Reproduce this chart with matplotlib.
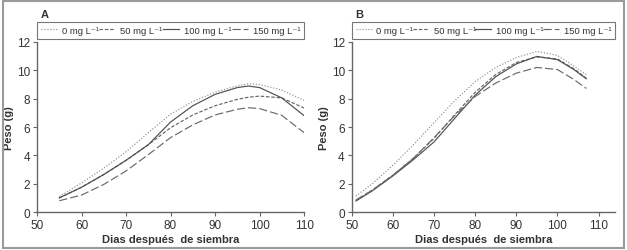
import numpy as np
import matplotlib
matplotlib.use("Agg")
import matplotlib.pyplot as plt
from matplotlib.patches import Rectangle

plt.rcParams['font.family'] = ['Liberation Sans', 'DejaVu Sans']

# panel A
days_a = [55, 60, 65, 70, 75, 80, 85, 90, 95, 97.5, 100, 105, 110]
a_0 = [1.1, 2.05, 3.1, 4.25, 5.6, 6.9, 7.8, 8.45, 8.9, 9.05, 9.0, 8.6, 7.88]
a_50 = [1.0, 1.75, 2.65, 3.65, 4.75, 5.95, 6.85, 7.5, 7.95, 8.1, 8.18, 8.05, 7.34]
a_100 = [1.0, 1.75, 2.65, 3.65, 4.75, 6.35, 7.5, 8.3, 8.78, 8.89, 8.78, 8.05, 6.8]
a_150 = [0.8, 1.2, 1.95, 2.9, 4.05, 5.25, 6.15, 6.85, 7.25, 7.36, 7.3, 6.82, 5.6]

# panel B
days_b = [51, 55, 60, 65, 70, 75, 80, 85, 90, 95, 100, 104, 107]
b_0 = [1.13, 2.0, 3.3, 4.75, 6.3, 7.85, 9.2, 10.2, 10.9, 11.33, 11.05, 10.3, 9.7]
b_50 = [0.82, 1.55, 2.6, 3.8, 5.2, 6.85, 8.45, 9.7, 10.55, 10.94, 10.8, 10.1, 9.45]
b_100 = [0.78, 1.5, 2.55, 3.7, 4.95, 6.6, 8.25, 9.55, 10.45, 10.98, 10.75, 10.05, 9.4]
b_150 = [0.85, 1.55, 2.6, 3.8, 5.25, 6.8, 8.15, 9.1, 9.8, 10.2, 10.05, 9.35, 8.72]

labels = ['0 mg L⁻¹', '50 mg L⁻¹', '100 mg L⁻¹', '150 mg L⁻¹']
styles = [(0, (1, 1.5)), (0, (3, 1.5)), '-', (0, (7, 2.5))]
colors = ['#909090', '#666666', '#505050', '#6a6a6a']

fig = plt.figure(figsize=(6.27, 2.51), dpi=100)
fig.patches.append(Rectangle((0.004, 0.008), 0.992, 0.984, transform=fig.transFigure,
                             fill=False, edgecolor='#9a9a9a', linewidth=1.5))

ax_a = fig.add_axes([0.059, 0.151, 0.426, 0.678])
ax_b = fig.add_axes([0.561, 0.151, 0.42, 0.678])

panels = [(ax_a, days_a, [a_0, a_50, a_100, a_150], 'A', 110),
          (ax_b, days_b, [b_0, b_50, b_100, b_150], 'B', 114)]

for ax, days, series, tag, xmax in panels:
    for ys, lab, ls, c in zip(series, labels, styles, colors):
        ax.plot(days, ys, linestyle=ls, color=c, linewidth=0.85, label=lab)
    ax.set_xlim(50, xmax)
    ax.set_ylim(0, 12)
    ax.set_xticks(range(50, 111, 10))
    ax.set_yticks(range(0, 13, 2))
    for s in ['top', 'right']:
        ax.spines[s].set_visible(False)
    for s in ['left', 'bottom']:
        ax.spines[s].set_color('#666666')
        ax.spines[s].set_linewidth(1.0)
    ax.tick_params(colors='#666666', labelcolor='#333333', labelsize=8.5,
                   length=3, width=0.8, pad=2)
    ax.set_xlabel('Dias después  de siembra', fontsize=8, fontweight='bold',
                  color='#333333', labelpad=2)
    ax.set_ylabel('Peso (g)', fontsize=8, fontweight='bold', color='#333333', labelpad=2)
    leg = ax.legend(loc='lower left', bbox_to_anchor=(0, 1.02, 1, 0.1), mode='expand',
                    ncol=4, fontsize=6.8, frameon=True, fancybox=False,
                    handlelength=1.7, handletextpad=0.5, columnspacing=0.4,
                    borderpad=0.4, borderaxespad=0)
    leg.get_frame().set_edgecolor('#555555')
    leg.get_frame().set_linewidth(0.8)
    for t in leg.get_texts():
        t.set_color('#333333')
    ax.text(0.015, 1.165, tag, transform=ax.transAxes, fontsize=8, fontweight='bold',
            color='#333333', va='center')

fig.savefig('out.png', dpi=100)
